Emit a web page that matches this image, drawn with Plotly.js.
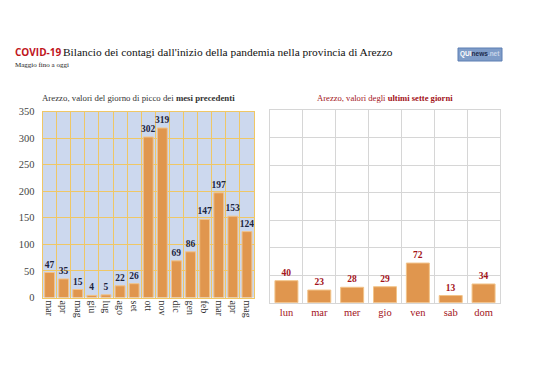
<!DOCTYPE html>
<html><head><meta charset="utf-8">
<script src="https://cdn.plot.ly/plotly-3.0.1.min.js"></script>
<style>html,body{margin:0;padding:0;background:#fff;}#chart{width:538px;height:380px;}</style>
</head><body><div id="chart"></div>
<script>
const monthLabels = ["mar","apr","mag","giu","lug","ago","set","ott","nov","dic","gen","feb","mar","apr","mag"];
const monthIdx = [0,1,2,3,4,5,6,7,8,9,10,11,12,13,14];
const monthValues = [47,35,15,4,5,22,26,302,319,69,86,147,197,153,124];
const dayLabels = ["lun","mar","mer","gio","ven","sab","dom"];
const dayValues = [40,23,28,29,72,13,34];
const yTicks = [0,50,100,150,200,250,300,350];

const serif = "Liberation Serif";
const sans = "Open Sans";
const orange = "#e0964e";
const orangeLine = "#f2c48a";
const navy = "#1c2440";
const dred = "#a3131a";

const traces = [
  {type:"bar", x: monthIdx, y: monthValues, xaxis:"x", yaxis:"y",
   marker:{color:orange, line:{color:orangeLine, width:1}},
   text: monthValues.map(String), textposition:"outside", cliponaxis:false, constraintext:"none",
   textfont:{family:serif, size:9.5, color:navy, weight:"bold"}, hoverinfo:"none"},
  {type:"bar", x: dayLabels, y: dayValues, xaxis:"x2", yaxis:"y2",
   marker:{color:orange, line:{color:orangeLine, width:1}},
   text: dayValues.map(String), textposition:"outside", cliponaxis:false, constraintext:"none",
   textfont:{family:serif, size:9.5, color:dred, weight:"bold"}, hoverinfo:"none"}
];

const layout = {
  width:538, height:380, margin:{l:0,r:0,t:0,b:0},
  paper_bgcolor:"#ffffff", plot_bgcolor:"rgba(0,0,0,0)",
  showlegend:false, bargap:0.3,
  font:{family:serif},
  xaxis:{domain:[42.5/538, 254/538], range:[-0.5,14.5], tickmode:"array", tickvals:monthIdx, ticktext:monthLabels,
    tickangle:90, tickfont:{family:serif, size:10, color:"#333"}, showgrid:false, zeroline:false,
    showline:true, linecolor:"#efc766", mirror:true, ticks:"",
    minor:{tickmode:"linear", tick0:0.5, dtick:1, showgrid:true, gridcolor:"#efc766", gridwidth:1}},
  yaxis:{domain:[1-297.5/380, 1-111.5/380], range:[0,350], tickvals:yTicks, ticktext:yTicks.map(String),
    tickfont:{family:serif, size:10.5, color:"#444"}, gridcolor:"#efc766", gridwidth:1, zeroline:false,
    showline:true, linecolor:"#efc766", mirror:true, ticks:"outside", ticklen:5, tickcolor:"rgba(0,0,0,0)"},
  xaxis2:{domain:[270/538, 500/538], anchor:"y2", type:"category", tickson:"boundaries", showgrid:true,
    gridcolor:"#d6d6d6", tickfont:{family:serif, size:10.5, color:dred}, ticks:"", zeroline:false,
    showline:true, linecolor:"#d6d6d6", mirror:true},
  yaxis2:{domain:[1-302.7/380, 1-110/380], anchor:"x2", range:[0,350], tickvals:yTicks, showticklabels:false,
    gridcolor:"#d6d6d6", zeroline:false, showline:true, linecolor:"#d6d6d6", mirror:true, ticks:""},
  shapes:[
    {type:"rect", xref:"x domain", yref:"y domain", x0:0, x1:1, y0:0, y1:1, fillcolor:"#ccd8ee", line:{width:0}, layer:"below"},
    {type:"rect", xref:"paper", yref:"paper", x0:458/538, x1:502/538, y0:1-61/380, y1:1-48/380,
     fillcolor:"#7f9cc8", line:{color:"#5d7fb3", width:1}}
  ],
  annotations:[
    {xref:"paper", yref:"paper", x:13/538, y:1-52/380, xanchor:"left", yanchor:"middle", showarrow:false,
     text:"<b>COVID-19</b>", font:{family:sans, size:10, color:"#c0141c"}},
    {xref:"paper", yref:"paper", x:61/538, y:1-52/380, xanchor:"left", yanchor:"middle", showarrow:false,
     text:"Bilancio dei contagi dall'inizio della pandemia nella provincia di Arezzo",
     font:{family:serif, size:11.4, color:"#111"}},
    {xref:"paper", yref:"paper", x:13/538, y:1-65/380, xanchor:"left", yanchor:"middle", showarrow:false,
     text:"Maggio fino a oggi", font:{family:serif, size:7, color:"#222"}},
    {xref:"paper", yref:"paper", x:138/538, y:1-98/380, xanchor:"center", yanchor:"middle", showarrow:false,
     text:"Arezzo, valori del giorno di picco dei <b>mesi precedenti</b>", font:{family:serif, size:8.8, color:"#333"}},
    {xref:"paper", yref:"paper", x:385/538, y:1-98/380, xanchor:"center", yanchor:"middle", showarrow:false,
     text:"Arezzo, valori degli <b>ultimi sette giorni</b>", font:{family:serif, size:8.6, color:dred}},
    {xref:"paper", yref:"paper", x:480/538, y:1-54.5/380, xanchor:"center", yanchor:"middle", showarrow:false,
     text:"<b><span style='color:#ffffff'>QUI</span><span style='color:#1d2b4a'>news</span><span style='color:#c9d6ea'>.net</span></b>",
     font:{family:"Liberation Sans", size:6.5, color:"#fff"}}
  ]
};

Plotly.newPlot("chart", traces, layout, {staticPlot:true, displayModeBar:false});
</script></body></html>
